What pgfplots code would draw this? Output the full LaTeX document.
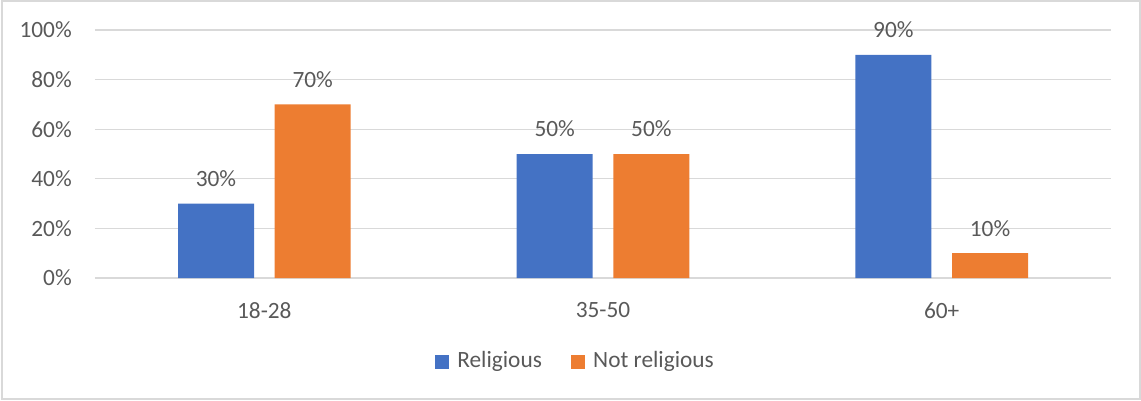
\documentclass[border=0pt]{standalone}
\usepackage{pgfplots}
\pgfplotsset{compat=1.18}
\usepackage{fontspec}
\setmainfont{Carlito}
\definecolor{txt}{HTML}{595959}
\definecolor{grd}{HTML}{D9D9D9}
\definecolor{blu}{HTML}{4472C4}
\definecolor{org}{HTML}{ED7D31}
\begin{document}
\fontsize{17.5}{21}\selectfont
\begin{tikzpicture}
\path (-71.25pt,-91.5pt) rectangle (784.5pt,208.5pt);
\draw[grd, line width=0.9pt] (-69.75pt,-90.75pt) rectangle (783.75pt,207.75pt);
\begin{axis}[
  at={(0,0)}, anchor=south west,
  width=762pt, height=186pt, scale only axis,
  ybar=15.5pt, bar width=57pt,
  xmin=-0.5, xmax=2.5, ymin=0, ymax=100,
  xtick={0,1,2}, xticklabels={18-28,35-50,60+},
  ytick={0,20,...,100}, yticklabels={0\%,20\%,40\%,60\%,80\%,100\%},
  axis line style={draw=none}, major tick length=0pt,
  ymajorgrids, grid style={grd, line width=0.9pt},
  tick label style={font=\fontsize{17.5}{21}\selectfont, text=txt, inner sep=0pt},
  yticklabel style={anchor=east, xshift=-17.25pt},
  xticklabel style={anchor=north, yshift=-18pt},
  clip=false,
  /pgf/number format/assume math mode=true,
  nodes near coords={\pgfmathprintnumber{\pgfplotspointmeta}\%},
  every node near coord/.append style={font=\fontsize{17.5}{21}\selectfont, text=txt, inner sep=0pt, anchor=south, yshift=12.5pt},
  legend style={at={(0.473,-0.3367)}, anchor=center, draw=none, fill=none,
    legend columns=-1, font=\fontsize{17.5}{21}\selectfont, text=txt,
    /tikz/every odd column/.append style={column sep=4.5pt},
    /tikz/every even column/.append style={column sep=19.5pt}},
  legend image code/.code={\fill[#1] (0pt,-5.25pt) rectangle (10.5pt,5.25pt);},
]
\addplot[fill=blu, draw=none] coordinates {(0,30) (1,50) (2,90)};
\addplot[fill=org, draw=none] coordinates {(0,70) (1,50) (2,10)};
\legend{Religious, Not religious}
\end{axis}
\end{tikzpicture}
\end{document}
